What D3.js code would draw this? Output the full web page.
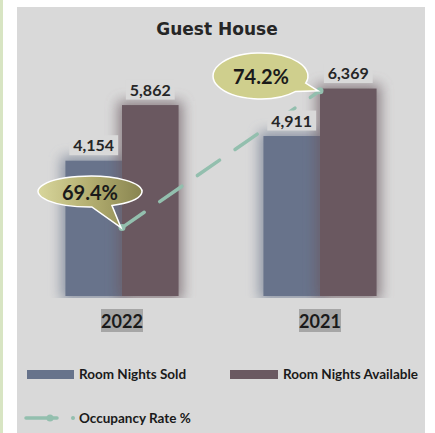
<!DOCTYPE html>
<html><head><meta charset="utf-8">
<script src="https://cdn.jsdelivr.net/npm/d3@7"></script>
<style>html,body{margin:0;padding:0;background:#fff;}svg{display:block;}</style>
</head><body>
<script>
const years = ["2022", "2021"];
const roomNightsSold = [4154, 4911];
const roomNightsAvailable = [5862, 6369];
const occupancyRate = [69.4, 74.2];
const seriesNames = ["Room Nights Sold", "Room Nights Available", "Occupancy Rate %"];
const title = "Guest House";

const W = 435, H = 433;
const svg = d3.select("body").append("svg").attr("width", W).attr("height", H);
const defs = svg.append("defs");

// glow filter
const glow = defs.append("filter").attr("id", "glow").attr("x", "-60%").attr("y", "-30%").attr("width", "220%").attr("height", "160%");
glow.append("feMorphology").attr("in", "SourceGraphic").attr("operator", "dilate").attr("radius", 4).attr("result", "d");
glow.append("feGaussianBlur").attr("in", "d").attr("stdDeviation", 6.5).attr("result", "b");
glow.append("feComponentTransfer").attr("in", "b").attr("result", "t")
  .append("feFuncA").attr("type", "linear").attr("slope", 0.7);
const gm = glow.append("feMerge");
gm.append("feMergeNode").attr("in", "t");
gm.append("feMergeNode").attr("in", "SourceGraphic");

const cg = defs.append("linearGradient").attr("id", "callGrad").attr("x1", "0").attr("x2", "1").attr("y1", "0").attr("y2", "0");
cg.append("stop").attr("offset", "0").attr("stop-color", "#d8d69c");
cg.append("stop").attr("offset", "0.5").attr("stop-color", "#b3ae70");
cg.append("stop").attr("offset", "1").attr("stop-color", "#888450");

defs.append("clipPath").attr("id", "plotClip").append("rect")
  .attr("x", 17).attr("y", 7).attr("width", 408).attr("height", 291);

// background
svg.append("rect").attr("x", 0).attr("y", 0).attr("width", 3).attr("height", H).attr("fill", "#d8e5c3");
svg.append("rect").attr("x", 17).attr("y", 7).attr("width", 408).attr("height", H - 7).attr("fill", "#d9d9d9");

// title
svg.append("text").attr("x", 217).attr("y", 35).attr("text-anchor", "middle")
  .attr("font-family", "DejaVu Sans").attr("font-weight", "bold").attr("font-size", 17)
  .attr("fill", "#262626").text(title);

// scales
const x0 = d3.scaleBand().domain(years).range([23, 419]).padding(0);
const x1 = d3.scaleBand().domain(["sold", "avail"]).range([0, x0.bandwidth()]).paddingInner(0).paddingOuter(0.75);
const y = d3.scaleLinear().domain([0, 7000]).range([296, 68]);
const y2 = d3.scaleLinear().domain([67, 75]).range([296, 68]);

const colors = { sold: "#67738b", avail: "#6a5961" };
const series = [
  { key: "sold", values: roomNightsSold },
  { key: "avail", values: roomNightsAvailable }
];

const plot = svg.append("g").attr("clip-path", "url(#plotClip)");
series.forEach(s => {
  plot.append("g").attr("filter", "url(#glow)")
    .selectAll("rect").data(s.values).join("rect")
    .attr("x", (d, i) => x0(years[i]) + x1(s.key))
    .attr("width", x1.bandwidth())
    .attr("y", d => y(d))
    .attr("height", d => y(0) - y(d))
    .attr("fill", colors[s.key]);
});

// occupancy line
const lx = (d, i) => x0(years[i]) + x0.bandwidth() / 2;
const line = d3.line().x((d, i) => lx(d, i)).y(d => y2(d));
svg.append("path").datum(occupancyRate).attr("d", line)
  .attr("fill", "none").attr("stroke", "#93bfae").attr("stroke-width", 3.5)
  .attr("stroke-dasharray", "27 18.8").attr("stroke-linecap", "round");
svg.selectAll(".mk").data(occupancyRate).join("circle")
  .attr("cx", (d, i) => lx(d, i)).attr("cy", d => y2(d)).attr("r", 3.5).attr("fill", "#93bfae");

// value labels (with panel-coloured background)
const fmt = d3.format(",");
series.forEach(s => {
  s.values.forEach((v, i) => {
    const cx = x0(years[i]) + x1(s.key) + x1.bandwidth() / 2;
    const g = svg.append("g");
    const bg = g.append("rect").attr("fill", "#d9d9d9");
    const t = g.append("text").attr("x", cx).attr("y", y(v) - 9.5).attr("text-anchor", "middle")
      .attr("font-family", "Lato").attr("font-weight", "bold").attr("font-size", 16)
      .attr("fill", "#262626").text(fmt(v));
    const bb = t.node().getBBox();
    bg.attr("x", bb.x - 4).attr("y", bb.y).attr("width", bb.width + 8).attr("height", bb.height + 1);
  });
});

// callouts
function callout(cx, cy, rx, ry, a1, a2, tx, ty, fill) {
  const p1 = [cx + rx * Math.cos(a1 * Math.PI / 180), cy + ry * Math.sin(a1 * Math.PI / 180)];
  const p2 = [cx + rx * Math.cos(a2 * Math.PI / 180), cy + ry * Math.sin(a2 * Math.PI / 180)];
  const d = `M${p2[0]},${p2[1]} A${rx},${ry} 0 1 1 ${p1[0]},${p1[1]} L${tx},${ty} Z`;
  svg.append("path").attr("d", d).attr("fill", fill).attr("stroke", "#ffffff").attr("stroke-width", 1.5);
}
const pts = occupancyRate.map((v, i) => [lx(v, i), y2(v)]);
callout(90, 191.5, 52, 15.5, 65, 88, pts[0][0] - 1, pts[0][1], "url(#callGrad)");
callout(260.5, 76, 47.5, 23, 18, 42, pts[1][0] - 2, pts[1][1], "#cfcf8d");
const pctPos = [[90, 200], [261, 84]];
occupancyRate.forEach((v, i) => {
  svg.append("text").attr("x", pctPos[i][0]).attr("y", pctPos[i][1]).attr("text-anchor", "middle")
    .attr("font-family", "Lato").attr("font-weight", "bold").attr("font-size", 20)
    .attr("fill", "#1a1a1a").text(v.toFixed(1) + "%");
});

// category labels
years.forEach(yr => {
  const cx = x0(yr) + x0.bandwidth() / 2;
  svg.append("rect").attr("x", cx - 21).attr("y", 309).attr("width", 42).attr("height", 23).attr("fill", "#a6a6a6");
  svg.append("text").attr("x", cx).attr("y", 328).attr("text-anchor", "middle")
    .attr("font-family", "Lato").attr("font-weight", "bold").attr("font-size", 18)
    .attr("fill", "#1a1a1a").text(yr);
});

// legend
const lg = svg.append("g").attr("font-family", "Lato").attr("font-weight", "bold").attr("font-size", 13.5).attr("fill", "#1a1a1a");
lg.append("rect").attr("x", 27).attr("y", 370).attr("width", 47).attr("height", 9).attr("fill", colors.sold);
lg.append("text").attr("x", 79).attr("y", 379).text(seriesNames[0]);
lg.append("rect").attr("x", 230).attr("y", 370).attr("width", 48).attr("height", 9).attr("fill", colors.avail);
lg.append("text").attr("x", 283).attr("y", 379).text(seriesNames[1]);
lg.append("line").attr("x1", 26).attr("x2", 57).attr("y1", 418).attr("y2", 418)
  .attr("stroke", "#93bfae").attr("stroke-width", 3.5).attr("stroke-linecap", "round");
lg.append("circle").attr("cx", 50).attr("cy", 418).attr("r", 3.5).attr("fill", "#93bfae");
lg.append("circle").attr("cx", 73).attr("cy", 418).attr("r", 2).attr("fill", "#93bfae");
lg.append("text").attr("x", 79).attr("y", 423).text(seriesNames[2]);
</script>
</body></html>
